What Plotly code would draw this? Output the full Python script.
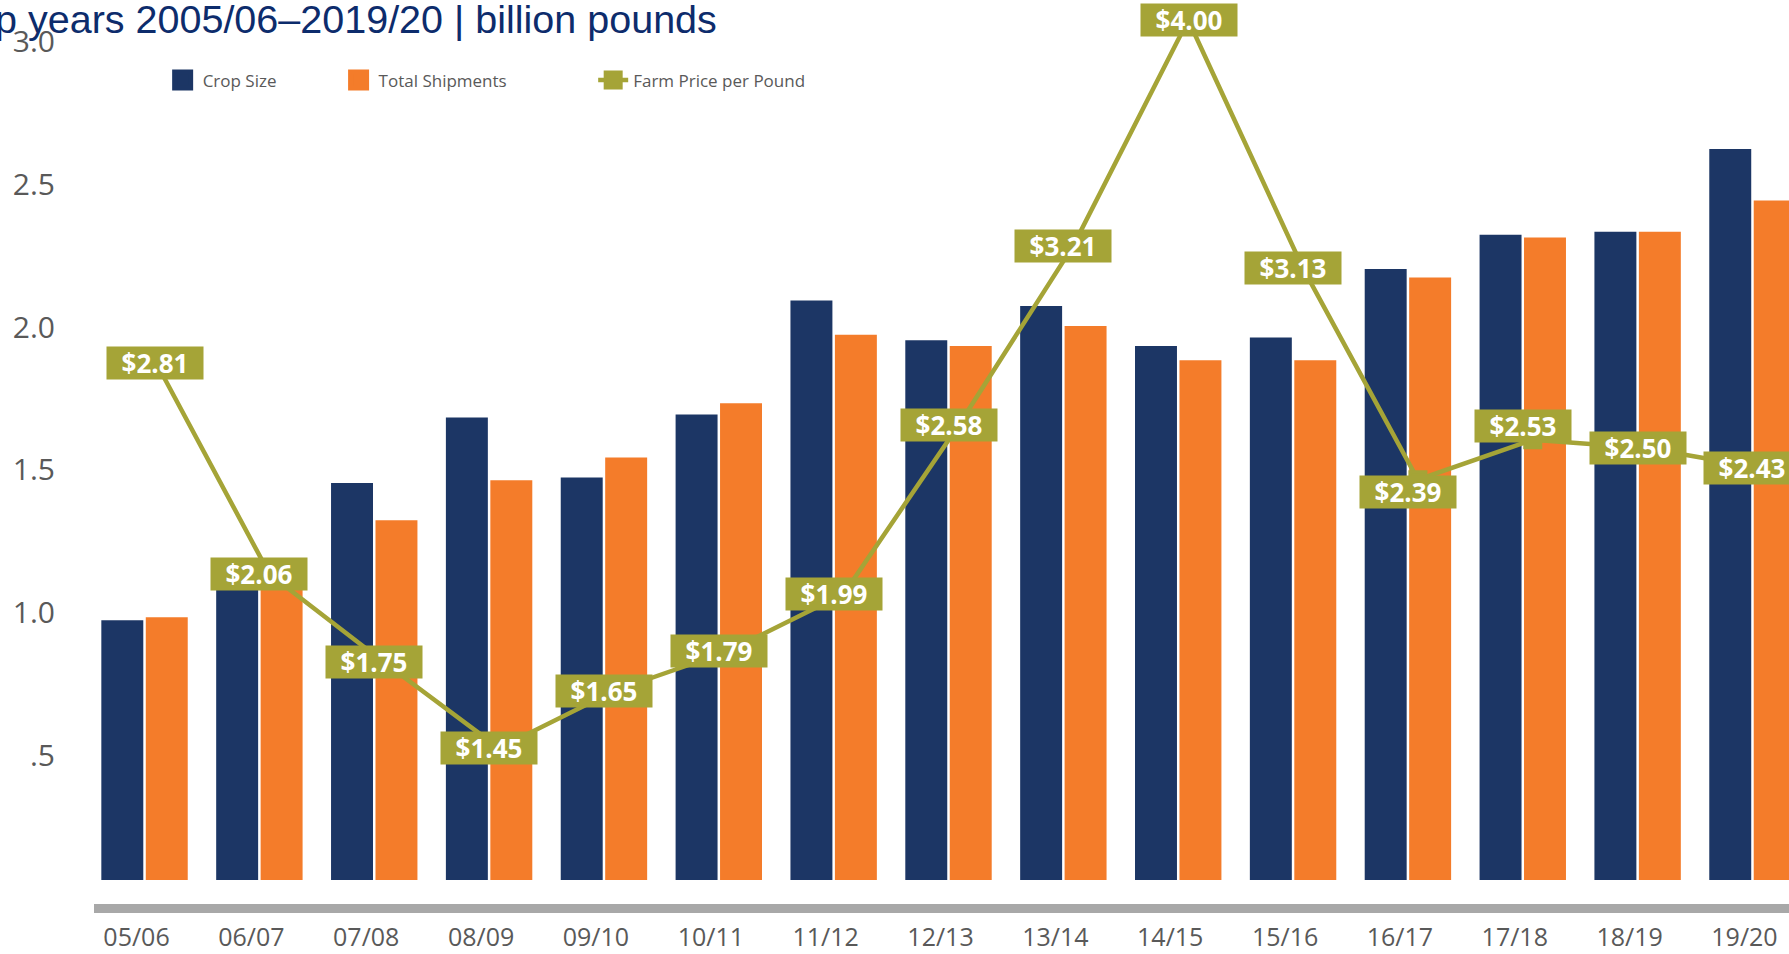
import plotly.graph_objects as go

# ---- data ----
seasons = ["05/06", "06/07", "07/08", "08/09", "09/10", "10/11", "11/12", "12/13",
           "13/14", "14/15", "15/16", "16/17", "17/18", "18/19", "19/20"]
crop_size = [0.91, 1.12, 1.39, 1.62, 1.41, 1.63, 2.03, 1.89, 2.01, 1.87, 1.90, 2.14, 2.26, 2.27, 2.56]
total_shipments = [0.92, 1.08, 1.26, 1.40, 1.48, 1.67, 1.91, 1.87, 1.94, 1.82, 1.82, 2.11, 2.25, 2.27, 2.38]
farm_price = [2.81, 2.06, 1.75, 1.45, 1.65, 1.79, 1.99, 2.58, 3.21, 4.00, 3.13, 2.39, 2.53, 2.50, 2.43]
ytick_values = [0.5, 1.0, 1.5, 2.0, 2.5, 3.0]
ytick_labels = [".5", "1.0", "1.5", "2.0", "2.5", "3.0"]
series_names = ["Crop Size", "Total Shipments", "Farm Price per Pound"]
title_text = "p years 2005/06\u20132019/20 | billion pounds"

NAVY = "#1C3665"
ORANGE = "#F47C2A"
OLIVE = "#A5A437"
GRAY = "#595959"

# label box nudges (pixels) where the original moved a data label off its point
label_nudge = {"05/06": (10, -3), "14/15": (11, 0), "16/17": (0, -12), "17/18": (0, 14)}

# axis setup
y_range = [-0.084, 3.082]
price_shift = 0.988
y2_range = [y_range[0] + price_shift, y_range[1] + price_shift]
label_offset = 0.064   # tick labels sit slightly below their gridline values in the original
x_range = [-0.44, 14.318]
line_shift = 0.087
x2_range = [x_range[0] - line_shift, x_range[1] - line_shift]

fig = go.Figure()
fig.add_trace(go.Bar(x=seasons, y=crop_size, name=series_names[0], marker_color=NAVY,
                     marker_line_width=0, showlegend=False))
fig.add_trace(go.Bar(x=seasons, y=total_shipments, name=series_names[1], marker_color=ORANGE,
                     marker_line_width=0, showlegend=False))
fig.add_trace(go.Scatter(x=seasons, y=farm_price, name=series_names[2],
                         mode="lines+markers", xaxis="x2", yaxis="y2",
                         line=dict(color=OLIVE, width=4.5),
                         marker=dict(symbol="square", size=16, color=OLIVE,
                                     line=dict(color=OLIVE, width=3)),
                         legend="legend3"))
# legend swatches for the bar series (large squares as in the original)
fig.add_trace(go.Scatter(x=[None], y=[None], mode="markers", name=series_names[0],
                         xaxis="x2", yaxis="y2", legend="legend",
                         marker=dict(symbol="square", size=32, color=NAVY,
                                     line=dict(color=NAVY, width=5))))
fig.add_trace(go.Scatter(x=[None], y=[None], mode="markers", name=series_names[1],
                         xaxis="x2", yaxis="y2", legend="legend2",
                         marker=dict(symbol="square", size=32, color=ORANGE,
                                     line=dict(color=ORANGE, width=5))))

for s, p in zip(seasons, farm_price):
    dx, dy = label_nudge.get(s, (0, 0))
    fig.add_annotation(x=s, y=p, xref="x", yref="y2", text=f"${p:.2f}",
                       showarrow=False, bgcolor=OLIVE, width=94, height=30, borderpad=1,
                       xshift=dx, yshift=dy,
                       font=dict(family="Open Sans", size=26, color="white", weight="bold"))

fig.add_annotation(x=0.3687, y=0.979, xref="paper", yref="paper", text=title_text,
                   showarrow=False, xanchor="right", yanchor="middle",
                   font=dict(family="Liberation Sans, Arial", size=39.5, color="#0D2C6C"))

legend_style = dict(orientation="h", yanchor="middle", y=0.911, xanchor="left",
                    font=dict(family="Open Sans", size=17, color=GRAY),
                    bgcolor="rgba(0,0,0,0)")

fig.update_layout(
    width=1789, height=954,
    margin=dict(l=94, r=0, t=0, b=50),
    paper_bgcolor="white", plot_bgcolor="white",
    barmode="group", bargap=0.226, bargroupgap=0.056,
    showlegend=True,
    legend=dict(x=0.0405, **legend_style),
    legend2=dict(x=0.1443, **legend_style),
    legend3=dict(x=0.2945, **legend_style),
    xaxis=dict(type="category", range=x_range, showgrid=False, zeroline=False,
               showline=True, linecolor="#A8A8A8", linewidth=9, ticks="",
               tickfont=dict(family="Open Sans", size=25, color=GRAY),
               ticklabelstandoff=3, ticklabelshift=-8, automargin=False),
    xaxis2=dict(type="category", overlaying="x", range=x2_range, visible=False),
    yaxis=dict(range=y_range, showgrid=False, zeroline=False, showline=False, ticks="",
               tickvals=[v - label_offset for v in ytick_values], ticktext=ytick_labels,
               tickfont=dict(family="Open Sans", size=30, color=GRAY),
               ticklabelstandoff=38, automargin=False),
    yaxis2=dict(range=y2_range, overlaying="y", side="right", visible=False),
)

fig.write_html("out.html", config={"displayModeBar": False},
               post_script="document.body.style.margin='0';document.body.style.overflow='hidden';")
